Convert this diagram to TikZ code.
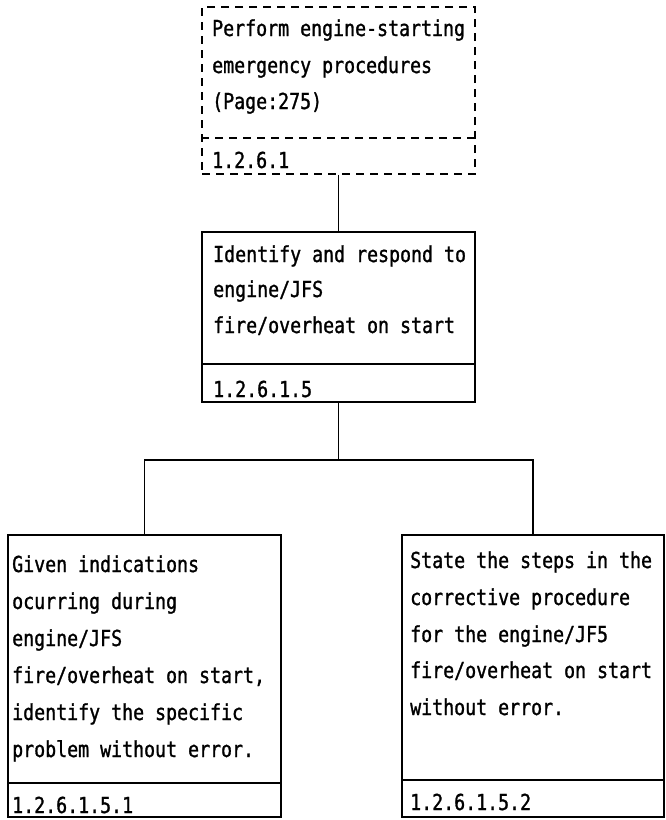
\documentclass[tikz,border=0pt]{standalone}
\usepackage{fontspec}
\newfontfamily\dotfont[FakeStretch=0.83,FakeBold=1.2]{DejaVu Sans Mono}
\begin{document}
\begin{tikzpicture}[x=1pt,y=-1pt,
  box/.style={draw,line width=1.8pt,rectangle,inner sep=0pt},
  dbox/.style={box,dash pattern=on 8pt off 6pt},
  txt/.style={anchor=base west,inner sep=0pt,font=\dotfont\fontsize{22}{37}\selectfont},
  conn/.style={line width=1.2pt}]
\useasboundingbox (0,0) rectangle (665,820);
% top box
\node[dbox,minimum width=273pt,minimum height=167pt] (top) at (338.5,90.5) {};
\draw[line width=1.8pt,dash pattern=on 8pt off 6pt] (top.west |- 0,138) -- (top.east |- 0,138);
\node[txt] (t1) at (212,36) {Perform engine-starting};
\node[txt] (t2) at (212,73) {emergency procedures};
\node[txt] (t3) at (212,109) {(Page:275)};
\node[txt] (tid) at (212,168) {1.2.6.1};
% middle box
\node[box,minimum width=273pt,minimum height=170pt] (mid) at (338.5,317) {};
\draw[line width=1.8pt] (mid.west |- 0,364) -- (mid.east |- 0,364);
\node[txt] (m1) at (213,262) {Identify and respond to};
\node[txt] (m2) at (213,297) {engine/JFS};
\node[txt] (m3) at (213,333) {fire/overheat on start};
\node[txt] (mid2) at (213,397) {1.2.6.1.5};
% left box
\node[box,minimum width=273pt,minimum height=282pt] (left) at (144.5,676) {};
\draw[line width=1.8pt] (left.west |- 0,783) -- (left.east |- 0,783);
\node[txt] (l1) at (12,572) {Given indications};
\node[txt] (l2) at (12,609) {ocurring during};
\node[txt] (l3) at (12,646) {engine/JFS};
\node[txt] (l4) at (12,683) {fire/overheat on start,};
\node[txt] (l5) at (12,720) {identify the specific};
\node[txt] (l6) at (12,757) {problem without error.};
\node[txt] (lid) at (12,813) {1.2.6.1.5.1};
% right box
\node[box,minimum width=262pt,minimum height=282pt] (right) at (533,676) {};
\draw[line width=1.8pt] (right.west |- 0,780) -- (right.east |- 0,780);
\node[txt] (r1) at (410,568) {State the steps in the};
\node[txt] (r2) at (410,605) {corrective procedure};
\node[txt] (r3) at (410,642) {for the engine/JF5};
\node[txt] (r4) at (410,678) {fire/overheat on start};
\node[txt] (r5) at (410,715) {without error.};
\node[txt] (rid) at (410,810) {1.2.6.1.5.2};
% connectors
\coordinate (bus) at (338.5,460);
\draw[conn] (top.south) -- (mid.north);
\draw[conn] (mid.south) -- (bus);
\draw[conn] (left.north) |- (bus) -| (right.north);
\end{tikzpicture}
\end{document}
